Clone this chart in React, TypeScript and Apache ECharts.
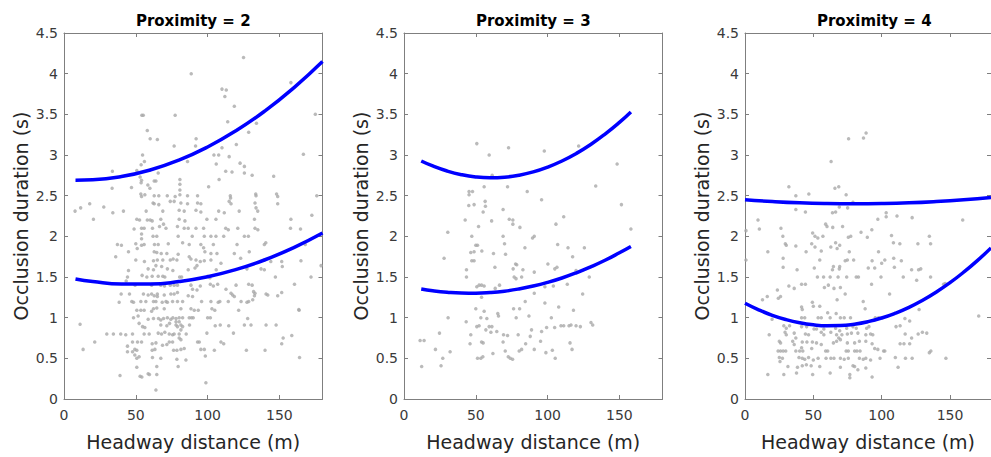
import { useEffect, useRef } from "react";
import * as echarts from "echarts";

const panelTitles = ["Proximity = 2", "Proximity = 3", "Proximity = 4"];
const xAxisTitle = "Headway distance (m)";
const yAxisTitle = "Occlusion duration (s)";
const xRange = [0, 180];
const xStep = 50;
const yRange = [0, 4.5];
const yStep = 0.5;

// Panel 1 (Proximity = 2) observations [headway, duration]
const points2: number[][] = [
  [125,4.2],[88.6,4.0],[110,3.81],[113,3.8],[112,3.72],[118.6,3.6],[158,3.89],[54.2,3.49],[55.2,3.49],[77.4,3.49],[175,3.5],[114,3.41],[134,3.39],[58,3.3],[60,3.2],[65,3.19],[92,3.2],[128.6,3.28],[91.6,3.11],[76.7,3.11],[120,3.13],[110,3.09],[54.7,3.0],[104.4,3.0],[107.7,3.0],[115,2.98],[166.7,3.01],[56,2.92],[86,2.92],[53.7,2.88],[106,2.89],[122.6,2.9],[125.6,2.86],[33.7,2.8],[50.7,2.81],[65.6,2.78],[112.6,2.8],[117,2.79],[125.6,2.78],[131,2.75],[146,2.74],[53,2.73],[54,2.69],[62.8,2.68],[64,2.68],[80.7,2.7],[80.7,2.64],[80.7,2.57],[80.7,2.51],[108,2.7],[53.7,2.66],[58.4,2.63],[59.8,2.59],[33.5,2.59],[47,2.6],[100.7,2.61],[53.5,2.52],[54,2.49],[62.8,2.5],[66,2.5],[71.9,2.5],[77.4,2.49],[86,2.5],[93,2.5],[115.8,2.5],[116,2.47],[133.7,2.5],[148.8,2.49],[176,2.5],
  [7.7,2.31],[11.6,2.35],[17.9,2.4],[20.5,2.21],[27.7,2.36],[34,2.29],[41.4,2.31],[36,1.75],[37.2,1.9],[40,1.89],[44.9,1.81],[44.9,1.58],[44.2,1.5],[39.8,1.29],[45.6,1.29],[48.8,2.09],[50.7,2.21],[52.6,2.2],[54,2.1],[55.8,2.1],[57.2,2.31],[56.3,2.51],[58,2.2],[60,2.2],[61.4,2.19],[61.6,2.1],[62,2.41],[62.8,2.4],[66,2.39],[68.8,2.31],[67.4,2.21],[66.5,2.12],[69.3,2.15],[54,2.03],[54,1.97],[50,1.91],[51,1.85],[54,1.89],[55.8,1.9],[62,2.0],[64.6,2.0],[63,1.9],[65.6,1.9],[71,2.1],[72.6,1.91],[62.8,1.81],[64.6,1.8],[67.7,1.79],[71.6,1.79],[50,1.71],[56,1.69],[62.3,1.7],[65,1.71],[68.8,1.71],[64,1.64],[68,1.63],[74,1.71],[76,1.72],[79.5,1.78],[78.6,1.71],[72,1.6],[58.6,1.6],[62.3,1.59],[54.4,1.52],[57.7,1.5],[61.4,1.51],[65.6,1.51],[68.8,1.51],[70.2,1.5],[75.8,1.58],[80.5,1.5],[81.9,1.5],[74,1.4],[76.7,1.4],[79,1.4],[67.4,1.4],[70,1.39],[61,1.4],[49.5,1.4],[55.3,1.29],[58.6,1.28],[61,1.29],[62.8,1.27],[65,1.29],[69.8,1.28],[74.4,1.29],[76.7,1.29],[79,1.31],[76.7,2.43],[74,2.43],[81.4,2.41],[86,2.4],[80.2,2.32],[83.7,2.31],[80.2,2.21],[84.2,2.19],[79,2.12],[83.7,2.1],[86.5,2.1],[79.5,2.0],[82.6,1.92],[87.2,1.9],[89.3,2.0],[91.9,2.1],[93,2.41],[95.3,2.4],[91.9,2.32],[95.3,2.3],[99.5,2.21],[97.2,2.1],[97.7,2.0],[102.3,2.0],[105.8,2.0],[95.3,1.9],[97.2,1.86],[104,1.9],[98.1,1.81],[102.3,1.79],[87.2,1.75],[88.4,1.72],[91.9,1.71],[94.9,1.69],[92.6,1.64],[86.5,1.59],[91.2,1.61],[97.7,1.7],[102.3,1.71],[106.5,1.79],[109.3,1.67],[106,1.59],[100,1.51],[101.6,1.49],[101.9,1.41],[104,1.39],[107,1.41],[94.9,1.39],[92.6,1.34],[88.4,1.4],[89.5,1.35],[112.6,2.1],[114.4,2.08],[111.2,2.0],[107.7,2.31],[111.6,2.29],[105.8,2.21],[115,2.43],[116.3,2.4],[122,2.31],[121,2.1],[125.6,2.0],[128.4,2.0],[120.5,1.9],[118.6,1.79],[123,1.73],[129,1.81],[133.5,2.52],[133,2.41],[133.7,2.35],[134.9,2.31],[132.6,2.21],[133,2.1],[135,2.08],[139.5,1.9],[140.5,1.92],[139.5,1.71],[144,1.69],[148,2.52],[148.8,2.4],[158,2.21],[157.7,2.1],[164.7,2.09],[172.6,2.26],[168,1.9],[165,1.7],[151.6,1.69],[152,1.63],[147.2,1.5],[172,1.5],[179,1.64],[137.2,1.6],[139.5,1.59],[127.4,1.6],[128.6,1.41],[131,1.4],[119.8,1.4],[112.8,1.35],[116.3,1.3],[117.4,1.28],[133,1.3],[132,1.32],[140.7,1.29],[151.6,1.31],[160.5,1.41],
  [38.4,1.19],[47.2,1.2],[48.4,1.19],[53.5,1.2],[57,1.2],[62.3,1.2],[64,1.2],[65,1.26],[68.4,1.19],[71,1.2],[72,1.19],[75.6,1.2],[79,1.2],[82.6,1.2],[86.5,1.27],[89.5,1.26],[95.8,1.2],[102.3,1.2],[107.4,1.19],[108.5,1.2],[114.4,1.2],[118.6,1.26],[123.3,1.2],[127.4,1.19],[128.6,1.2],[131.4,1.22],[132.6,1.27],[141.9,1.28],[148.8,1.27],[50.7,1.09],[53.5,1.09],[55.8,1.09],[61,1.08],[62.3,1.11],[64.6,1.12],[69.8,1.11],[65.8,0.99],[67.4,0.97],[69.3,0.99],[72,1.0],[74.4,0.98],[75.8,1.0],[78,0.99],[80.2,1.0],[82.6,1.0],[87.2,1.0],[88.8,1.0],[90,1.0],[81.4,1.11],[88.4,1.11],[90.7,1.09],[93.5,1.09],[100,1.0],[101.9,1.0],[103,1.11],[105,1.09],[121.6,1.09],[127.9,0.99],[163.7,1.09],[48.4,1.0],[51.6,1.02],[52.3,0.93],[54.7,0.89],[56.3,0.88],[58.6,0.98],[62.3,0.99],[67.4,0.91],[71.6,0.9],[73.5,0.93],[78,0.91],[79,0.89],[81.4,0.91],[82.6,0.89],[78,0.95],[80.2,0.95],[87.4,0.91],[11.2,0.92],[29.8,0.8],[34.4,0.8],[39.5,0.8],[43,0.79],[47.7,0.8],[55.8,0.8],[59.3,0.8],[65.6,0.81],[67.9,0.8],[70.2,0.82],[73.3,0.8],[75.6,0.79],[76.7,0.8],[80.2,0.8],[81.4,0.85],[85.1,0.8],[80.2,0.75],[81.4,0.73],[99.5,0.81],[105.3,0.9],[108.8,0.91],[114.7,0.9],[118,0.81],[125.6,0.91],[130.2,0.91],[140.7,0.91],[147.7,0.91],[152.6,0.75],[158.6,0.78],[151.6,0.68],[21.4,0.7],[13.3,0.61],[44.2,0.65],[44.2,0.58],[47.7,0.58],[49.3,0.61],[50.7,0.6],[47.7,0.7],[51.2,0.7],[54,0.7],[49.3,0.54],[50.7,0.5],[52.3,0.52],[61.4,0.68],[64,0.69],[68.6,0.66],[71.6,0.67],[73.3,0.7],[75.6,0.7],[61.4,0.6],[63.3,0.61],[67.4,0.5],[76.3,0.6],[78.6,0.6],[81.4,0.61],[83.7,0.62],[78.6,0.49],[84.9,0.48],[93,0.7],[94.2,0.7],[95.3,0.61],[97.7,0.61],[98.4,0.53],[104.7,0.6],[109.3,0.7],[111.2,0.68],[127,0.6],[140,0.6],[164,0.51],[50.7,0.39],[53,0.28],[54.2,0.27],[58.6,0.31],[59.5,0.3],[64.6,0.3],[64.6,0.4],[61.6,0.51],[39,0.29],[79.5,0.4],[98.8,0.2],[64,0.11],[163.5,1.1],[43.3,1.45]
];

// Panel 2 (Proximity = 3)
const points3: number[][] = [
  [50.7,3.14],[59.3,3.0],[72.8,3.09],[97.7,3.05],[121.6,3.11],[148.4,2.89],[61.4,2.75],[55.8,2.61],[72.1,2.61],[85.8,2.55],[133.5,2.62],[45.3,2.55],[47.7,2.55],[45.3,2.51],[45.1,2.38],[48.8,2.39],[56.5,2.43],[56.7,2.37],[95.8,2.45],[151.4,2.39],[69,2.33],[55.1,2.3],[42.6,2.2],[61,2.19],[73.3,2.21],[75.8,2.2],[75.8,2.15],[80.7,2.11],[51.9,2.12],[105.8,2.15],[111.2,2.24],[158,2.09],[30.5,2.05],[47.2,2.0],[69,2.0],[70,1.91],[89.5,1.98],[90.7,2.0],[50,1.89],[51.2,1.89],[84.2,1.86],[107,1.9],[114.2,1.86],[125.6,1.86],[46.5,1.8],[48.8,1.81],[54.2,1.82],[62.3,1.79],[70.7,1.78],[27.9,1.73],[117.4,1.75],[47.2,1.7],[48.8,1.7],[77.7,1.66],[78.5,1.65],[63.3,1.62],[100.2,1.66],[43.5,1.59],[76,1.6],[82.8,1.59],[90.7,1.56],[105,1.6],[106.5,1.62],[119.8,1.58],[43.5,1.5],[76.7,1.5],[78,1.48],[81.9,1.5],[129,1.5],[50.7,1.38],[52.3,1.4],[54,1.4],[55.8,1.39],[54,1.25],[63.5,1.36],[66.5,1.4],[98.1,1.38],[104,1.39],[113.7,1.41],[90.7,1.3],[124.4,1.29],[84.4,1.2],[98.1,1.18],[107.7,1.13],[50,1.11],[55.8,1.08],[76.3,1.11],[80.5,1.11],[118,1.09],[65.3,1.05],[65.8,1.02],[30.7,1.0],[53.5,1.0],[57.7,0.99],[87,1.02],[78.1,1.0],[102.6,1.0],[43.3,0.95],[50.7,0.89],[52.3,0.9],[57,0.85],[59.3,0.89],[61.2,0.89],[60.5,0.82],[64.6,0.83],[69.3,0.79],[72.1,0.78],[79.5,0.79],[88.8,0.85],[95.8,0.83],[99.3,0.88],[104.9,0.88],[109.3,0.9],[111.2,0.9],[114.9,0.9],[116.3,0.91],[119.8,0.9],[122.8,0.89],[130.2,0.94],[131.4,0.91],[24.7,0.81],[46.5,0.79],[87.9,0.77],[11.2,0.72],[14,0.72],[46,0.68],[54,0.7],[55.1,0.69],[69,0.7],[84.7,0.68],[95.1,0.71],[115.6,0.69],[21.9,0.61],[32.1,0.58],[27,0.5],[61.9,0.56],[70.5,0.59],[80.2,0.59],[81.9,0.61],[90.7,0.61],[98.8,0.57],[103.3,0.6],[117,0.61],[51.2,0.5],[53.5,0.5],[54.9,0.52],[72.6,0.52],[74,0.5],[75.6,0.49],[105.3,0.5],[12.3,0.4],[25.8,0.41]
];

// Panel 3 (Proximity = 4)
const points4: number[][] = [
  [88.6,3.27],[86.7,3.21],[75.8,3.2],[63,2.92],[32.1,2.61],[65.8,2.59],[68.6,2.61],[37.2,2.5],[46.7,2.52],[74,2.51],[79,2.42],[37.2,2.33],[44.2,2.3],[69,2.36],[75.1,2.35],[64,2.29],[66.3,2.3],[9.5,2.2],[10.5,2.09],[26.3,2.1],[27.7,2.0],[29.5,1.91],[37.2,1.88],[59,2.15],[60,2.12],[64.2,2.11],[71.4,2.12],[49.5,2.04],[51.2,2.0],[53.3,1.98],[57,2.0],[48.8,1.91],[51.2,1.87],[66.3,1.92],[69.3,1.89],[75.6,1.99],[77.4,2.0],[84.9,2.05],[89.5,1.99],[92.8,2.08],[97.2,2.21],[103.3,2.29],[103.3,2.24],[111.2,2.25],[122.3,2.23],[107.2,2.01],[108.6,1.92],[113.3,1.91],[126.5,1.91],[134.9,2.0],[135.8,1.91],[159.3,2.2],[0.7,2.07],[0.7,1.71],[171,1.02],
  [16.7,1.81],[30.2,1.89],[44.7,1.81],[55.8,1.82],[62.8,1.87],[67.4,1.85],[76.3,1.81],[97.7,1.81],[27.9,1.73],[54.7,1.71],[64.7,1.63],[64,1.59],[69.3,1.63],[73.3,1.7],[74.9,1.71],[79.5,1.71],[69,1.6],[50.7,1.61],[38.1,1.59],[27.9,1.62],[90.2,1.61],[94.9,1.61],[93,1.7],[100,1.67],[102.3,1.71],[108.8,1.73],[109.3,1.62],[114.4,1.7],[121.9,1.59],[127,1.59],[128.6,1.6],[53,1.5],[57.5,1.5],[62.3,1.5],[68.1,1.5],[74.4,1.5],[81.4,1.5],[83,1.5],[99.5,1.5],[115.8,1.5],[125.6,1.46],[135.8,1.5],[145.3,1.41],[146.5,1.42],[32.1,1.39],[36,1.36],[41.4,1.41],[44.2,1.41],[58.1,1.37],[61,1.4],[65.1,1.36],[69.8,1.37],[92.6,1.41],[23.7,1.34],[12.8,1.22],[16.3,1.26],[24.4,1.24],[26,1.26],[73.3,1.29],[105.8,1.29],[67.4,1.22],[49.3,1.19],[50,1.14],[54.7,1.14],[41.4,1.13],[41.9,1.1],[86.5,1.2],[87.9,1.11],[127.4,1.1],[60.5,1.06],[66.7,1.05],[69.8,1.0],[72.6,1.0],[77.2,1.0],[41.4,1.0],[43.7,1.0],[53.5,1.0],[55.8,1.0],[19.8,0.98],[62.3,1.0],[95.3,1.0],[97.7,1.0],[100.5,1.0],[117,0.99],[120.5,0.96],[28.4,0.9],[30.2,0.87],[32.6,0.9],[41.4,0.89],[45.1,0.89],[50.5,0.86],[52.3,0.86],[57.7,0.86],[66.3,0.87],[69.3,0.84],[74.4,0.87],[79,0.89],[81.4,0.87],[89,0.87],[90.7,0.89],[110.5,0.89],[113.5,0.9],[17.7,0.79],[29.3,0.82],[30.2,0.79],[36,0.81],[37.2,0.75],[44.2,0.8],[46.5,0.79],[55.8,0.82],[57.7,0.79],[62.8,0.82],[67,0.79],[68.6,0.75],[70.9,0.79],[74.9,0.8],[77.9,0.81],[82.6,0.81],[88.4,0.79],[91.9,0.8],[93.5,0.79],[117.2,0.8],[121.9,0.75],[126.7,0.8],[129.8,0.82],[133,0.81],[25.1,0.71],[26,0.69],[34.9,0.71],[36,0.67],[41.9,0.7],[45.3,0.7],[49.3,0.7],[41.4,0.63],[42.3,0.59],[48.8,0.62],[52.3,0.69],[55.8,0.67],[64.7,0.69],[67,0.71],[69.8,0.73],[74.9,0.69],[80.2,0.69],[83.7,0.71],[88.4,0.71],[93,0.68],[94.9,0.62],[97.2,0.61],[101.4,0.59],[113.5,0.68],[116.3,0.68],[120.5,0.68],[136,0.59],[134.9,0.57],[24.2,0.59],[26,0.59],[27.9,0.59],[29.8,0.59],[37.2,0.59],[40,0.59],[59,0.59],[60.5,0.59],[74,0.59],[75.6,0.59],[80.2,0.59],[81.9,0.59],[84.2,0.59],[102.3,0.59],[25.1,0.51],[27.4,0.5],[25.6,0.46],[39.5,0.51],[41.9,0.5],[43.7,0.49],[46.5,0.51],[50,0.48],[53.5,0.5],[59.3,0.5],[62.8,0.5],[65.1,0.5],[69.8,0.5],[72.6,0.49],[75.6,0.5],[83.7,0.5],[86.5,0.49],[88.4,0.5],[91.9,0.48],[98.8,0.5],[110,0.51],[117.4,0.5],[122.3,0.5],[147,0.5],[31.4,0.4],[38.4,0.39],[41.9,0.41],[44.9,0.42],[48.4,0.41],[54.7,0.4],[69.8,0.39],[79,0.41],[80.2,0.4],[82.6,0.36],[76.7,0.3],[76.7,0.26],[93,0.27],[112,0.39],[16.7,0.3],[28.4,0.3],[37.7,0.32],[49.5,0.3],[62.3,0.32],[88.4,0.38]
];

// Fitted curves [headway, duration]
const upper2: number[][] = [[8,2.69],[20,2.695],[40,2.735],[60,2.816],[80,2.937],[100,3.099],[120,3.301],[140,3.543],[160,3.826],[180,4.149]];
const lower2: number[][] = [[8,1.476],[20,1.444],[40,1.414],[60,1.414],[80,1.444],[100,1.503],[120,1.593],[140,1.712],[160,1.861],[180,2.04]];
const upper3: number[][] = [[12,2.926],[20,2.865],[30,2.803],[40,2.758],[50,2.73],[60,2.72],[70,2.727],[80,2.751],[90,2.792],[100,2.851],[110,2.926],[120,3.019],[130,3.129],[140,3.257],[150,3.401],[158,3.529]];
const lower3: number[][] = [[12,1.353],[20,1.331],[30,1.312],[40,1.302],[50,1.301],[60,1.309],[70,1.326],[80,1.353],[90,1.389],[100,1.434],[110,1.488],[120,1.552],[130,1.625],[140,1.706],[150,1.798],[158,1.876]];
const upper4: number[][] = [[0,2.45],[20,2.428],[40,2.412],[60,2.403],[80,2.4],[100,2.403],[120,2.412],[140,2.428],[160,2.45],[180,2.478]];
const lower4: number[][] = [[0,1.178],[10,1.097],[20,1.029],[30,0.976],[40,0.937],[50,0.912],[60,0.901],[70,0.903],[80,0.92],[90,0.951],[100,0.996],[110,1.055],[120,1.127],[130,1.214],[140,1.315],[150,1.43],[160,1.559],[170,1.701],[180,1.858]];

const panelPoints = [points2, points3, points4];
const panelUpper = [upper2, upper3, upper4];
const panelLower = [lower2, lower3, lower4];

// layout (pixels)
const gridLefts = [64, 404, 745];
const gridTop = 33;
const gridWidth = 258.5;
const gridHeight = 366;
const FONT = "DejaVu Sans";
const AXIS_COLOR = "#7f7f7f";
const LABEL_COLOR = "#3a3a3a";

export default function App() {
  const ref = useRef<HTMLDivElement>(null);
  useEffect(() => {
    if (!ref.current) return;
    const chart = echarts.init(ref.current, undefined, { renderer: "svg" });
    const grids: any[] = [];
    const xAxes: any[] = [];
    const yAxes: any[] = [];
    const series: any[] = [];
    const graphics: any[] = [];
    const lineStyle = { color: AXIS_COLOR, width: 1 };
    for (let i = 0; i < 3; i++) {
      grids.push({ left: gridLefts[i], top: gridTop, width: gridWidth, height: gridHeight, containLabel: false });
      const xBase = {
        type: "value", gridIndex: i, min: xRange[0], max: xRange[1], interval: xStep,
        splitLine: { show: false },
        axisLine: { show: true, onZero: false, lineStyle },
        axisTick: { show: true, inside: true, length: 4, lineStyle },
      };
      xAxes.push({
        ...xBase, position: "bottom",
        axisLabel: { show: true, showMaxLabel: false, color: LABEL_COLOR, fontSize: 14, fontFamily: FONT, margin: 9 },
        name: xAxisTitle, nameLocation: "middle", nameGap: 33,
        nameTextStyle: { fontSize: 19, fontFamily: FONT, color: "#262626" },
      });
      xAxes.push({ ...xBase, position: "top", axisLabel: { show: false } });
      const yBase = {
        type: "value", gridIndex: i, min: yRange[0], max: yRange[1], interval: yStep,
        splitLine: { show: false },
        axisLine: { show: true, onZero: false, lineStyle },
        axisTick: { show: true, inside: true, length: 4, lineStyle },
      };
      yAxes.push({
        ...yBase, position: "left",
        axisLabel: { show: true, color: LABEL_COLOR, fontSize: 14, fontFamily: FONT, margin: 6 },
        name: yAxisTitle, nameLocation: "middle", nameGap: 34,
        nameTextStyle: { fontSize: 19, fontFamily: FONT, color: "#262626" },
      });
      yAxes.push({ ...yBase, position: "right", axisLabel: { show: false } });
      series.push({
        type: "scatter", xAxisIndex: 2 * i, yAxisIndex: 2 * i, data: panelPoints[i],
        symbol: "circle", symbolSize: 3.5, itemStyle: { color: "#a9a9a9" }, z: 2, silent: true,
      });
      for (const curve of [panelUpper[i], panelLower[i]]) {
        series.push({
          type: "line", xAxisIndex: 2 * i, yAxisIndex: 2 * i, data: curve, smooth: true,
          showSymbol: false, symbol: "none", lineStyle: { color: "#0000ff", width: 3.5 }, z: 3, silent: true,
        });
      }
      graphics.push({
        type: "text", x: gridLefts[i] + gridWidth / 2, y: 20.5,
        style: {
          text: panelTitles[i], fill: "#000", font: `bold 15px "${FONT}"`,
          fontFamily: FONT, fontSize: 15, fontWeight: "bold",
          textAlign: "center", textVerticalAlign: "middle", align: "center", verticalAlign: "middle",
        },
      });
    }
    chart.setOption({
      animation: false,
      backgroundColor: "#ffffff",
      grid: grids,
      xAxis: xAxes,
      yAxis: yAxes,
      series,
      graphic: graphics,
    });
    return () => chart.dispose();
  }, []);
  return (
    <div
      ref={ref}
      style={{ position: "fixed", left: 0, top: 0, width: 991, height: 457, background: "#fff" }}
    />
  );
}
